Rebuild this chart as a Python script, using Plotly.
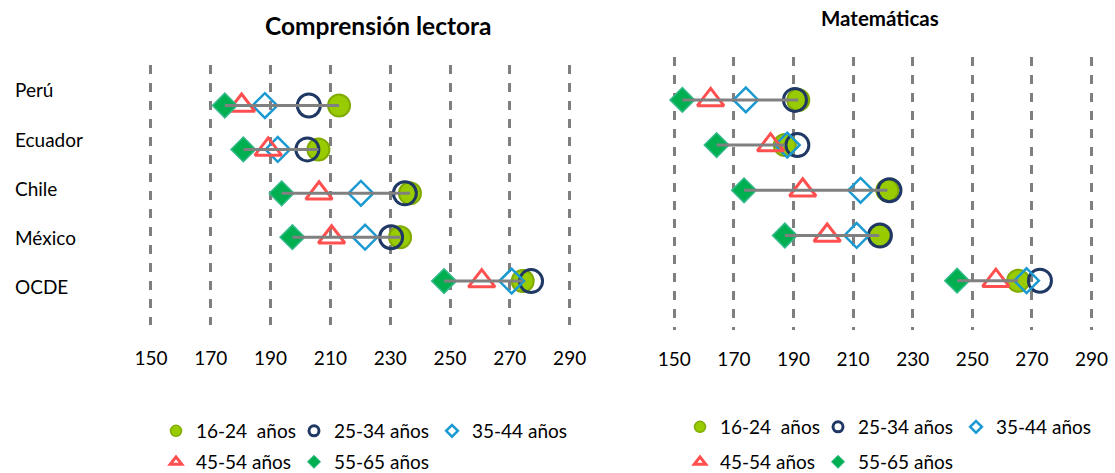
import plotly.graph_objects as go

# Data -------------------------------------------------------------------
countries = ["Perú", "Ecuador", "Chile", "México", "OCDE"]
age_groups = ["16-24  años", "25-34 años", "35-44 años", "45-54 años", "55-65 años"]

# Comprensión lectora, mean score by age group
lect_16_24 = [212.9, 206.0, 236.6, 233.3, 274.3]
lect_25_34 = [202.8, 202.3, 234.9, 230.3, 277.1]
lect_35_44 = [188.1, 192.4, 220.2, 221.6, 270.6]
lect_45_54 = [180.3, 189.2, 206.2, 210.4, 260.6]
lect_55_65 = [174.7, 180.9, 193.7, 197.3, 248.0]

# Matemáticas, mean score by age group
mat_16_24 = [191.6, 187.1, 221.5, 218.8, 265.4]
mat_25_34 = [190.5, 191.3, 222.2, 219.0, 272.7]
mat_35_44 = [174.0, 187.9, 212.5, 211.2, 268.2]
mat_45_54 = [162.2, 182.3, 193.1, 201.3, 257.9]
mat_55_65 = [152.7, 164.2, 173.4, 187.1, 244.9]

x_ticks = [150, 170, 190, 210, 230, 250, 270, 290]

# Styling ----------------------------------------------------------------
FONT = "Lato"
W, H = 1115, 473
symbols = ["circle", "circle-open", "diamond-open", "triangle-up-open", "diamond"]
colors = ["#99CC00", "#1F3864", "#1B9AD2", "#FF4F4F", "#00B050"]
plot_sizes = [22, 23, 19, 23, 19]
legend_sizes = [11, 10, 9, 10, 10]
line_specs = [
    dict(color="#80AA00", width=2),
    dict(width=3),
    dict(width=2.5),
    dict(width=3),
    dict(color="#33B98A", width=1.5),
]
legend_lines = [
    dict(color="#80AA00", width=1.5),
    dict(width=3),
    dict(width=2.5),
    dict(width=3),
    dict(color="#33B98A", width=1),
]

row_y = list(range(len(countries), 0, -1))  # Perú on top, OCDE at the bottom

fig = go.Figure()


def add_panel(series, xa, ya, legends):
    for i, (vals, name) in enumerate(zip(series, age_groups)):
        fig.add_trace(go.Scatter(
            x=vals, y=row_y, mode="markers", name=name,
            marker=dict(symbol=symbols[i], size=plot_sizes[i], color=colors[i],
                        line=line_specs[i]),
            xaxis=xa, yaxis=ya, showlegend=False, hoverinfo="x+name",
        ))
    # gap between the youngest and the oldest group, drawn over the markers
    lx, ly = [], []
    for a, b, y in zip(series[4], series[0], row_y):
        lx += [a, b, None]
        ly += [y, y, None]
    fig.add_trace(go.Scatter(
        x=lx, y=ly, mode="lines", line=dict(color="#808080", width=3),
        xaxis=xa, yaxis=ya, showlegend=False, hoverinfo="skip",
    ))
    # legend keys with small symbols
    for i, name in enumerate(age_groups):
        fig.add_trace(go.Scatter(
            x=[None], y=[None], mode="markers", name=name,
            marker=dict(symbol=symbols[i], size=legend_sizes[i], color=colors[i],
                        line=legend_lines[i]),
            xaxis=xa, yaxis=ya,
            legend=legends[0] if i < 3 else legends[1],
        ))


add_panel([lect_16_24, lect_25_34, lect_35_44, lect_45_54, lect_55_65], "x", "y",
          ["legend", "legend2"])
add_panel([mat_16_24, mat_25_34, mat_35_44, mat_45_54, mat_55_65], "x2", "y2",
          ["legend3", "legend4"])

xaxis_common = dict(
    range=[145, 295], tickvals=x_ticks, showgrid=True, griddash="dash",
    gridcolor="#7F7F7F", gridwidth=2.5, zeroline=False, showline=False,
    ticks="", tickfont=dict(family=FONT, size=19, color="#000000"),
)
yaxis_common = dict(showgrid=False, zeroline=False, showline=False,
                    showticklabels=False, fixedrange=True)

fig.update_layout(
    width=W, height=H,
    margin=dict(l=0, r=0, t=0, b=0, autoexpand=False),
    paper_bgcolor="white", plot_bgcolor="white",
    font=dict(family=FONT, size=19, color="#000000"),
    xaxis=dict(domain=[136 / W, 584.6 / W], anchor="y", ticklabelstandoff=20, **xaxis_common),
    yaxis=dict(domain=[1 - 325 / H, 1 - 65 / H], range=[0, 5.923], anchor="x", **yaxis_common),
    xaxis2=dict(domain=[659.4 / W, 1106.4 / W], anchor="y2", ticklabelstandoff=16, **xaxis_common),
    yaxis2=dict(domain=[1 - 330 / H, 1 - 57 / H], range=[-0.091, 5.949], anchor="x2", **yaxis_common),
    showlegend=True,
)

legend_common = dict(orientation="h", xanchor="left", yanchor="middle",
                     font=dict(family=FONT, size=19, color="#000000"),
                     itemsizing="trace", entrywidth=93, entrywidthmode="pixels",
                     bgcolor="rgba(0,0,0,0)", borderwidth=0, tracegroupgap=0)
fig.update_layout(
    legend=dict(x=156 / W, y=1 - 431 / H, **legend_common),
    legend2=dict(x=156 / W, y=1 - 462 / H, **legend_common),
    legend3=dict(x=680 / W, y=1 - 427 / H, **legend_common),
    legend4=dict(x=680 / W, y=1 - 462 / H, **legend_common),
)

# Panel titles
fig.add_annotation(text="<b>Comprensión lectora</b>", x=378 / W, y=1 - 25 / H,
                   xref="paper", yref="paper", showarrow=False,
                   font=dict(family=FONT, size=24.5), xanchor="center", yanchor="middle")
fig.add_annotation(text="<b>Matemáticas</b>", x=880 / W, y=1 - 18 / H,
                   xref="paper", yref="paper", showarrow=False,
                   font=dict(family=FONT, size=20.5), xanchor="center", yanchor="middle")

# Country labels down the left edge
for i, c in enumerate(countries):
    fig.add_annotation(text=c, x=13 / W, y=1 - (90 + 49 * i) / H,
                       xref="paper", yref="paper", showarrow=False,
                       font=dict(family=FONT, size=19), xanchor="left", yanchor="middle")

fig.write_html("out.html")
